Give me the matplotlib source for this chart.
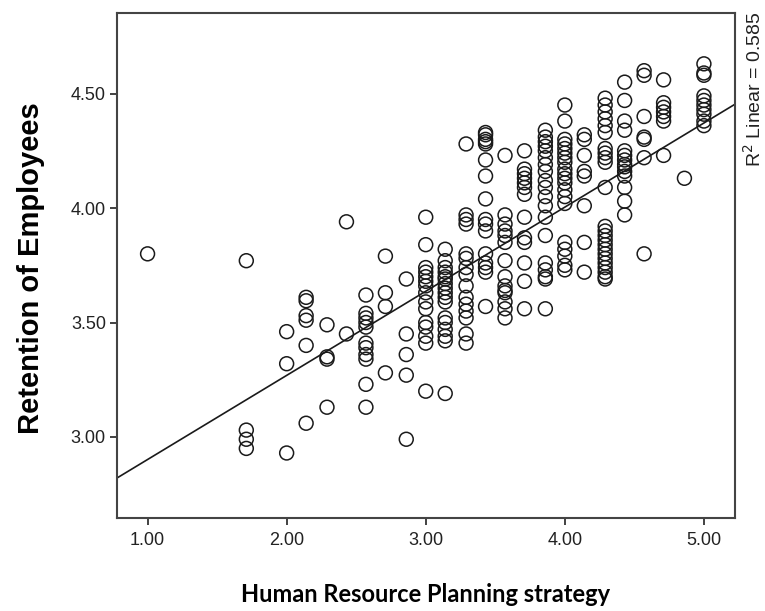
import matplotlib
matplotlib.use("Agg")
import matplotlib.pyplot as plt
import numpy as np

# HRP strategy score levels (x) and the retention scores observed at each level
hrp_levels = [1.00, 1.71, 2.00, 2.14, 2.29, 2.43, 2.57, 2.71, 2.86, 3.00, 3.14, 3.29,
              3.43, 3.57, 3.71, 3.86, 4.00, 4.14, 4.29, 4.43, 4.57, 4.71, 4.86, 5.00]

retention_by_level = [
    [3.80],
    [3.77, 3.03, 2.99, 2.95],
    [3.46, 3.32, 2.93],
    [3.61, 3.595, 3.53, 3.51, 3.40, 3.06],
    [3.49, 3.35, 3.34, 3.13],
    [3.94, 3.45],
    [3.62, 3.54, 3.52, 3.50, 3.48, 3.41, 3.39, 3.36, 3.34, 3.23, 3.13],
    [3.79, 3.63, 3.57, 3.28],
    [3.69, 3.45, 3.36, 3.27, 2.99],
    [3.96, 3.84, 3.74, 3.72, 3.70, 3.68, 3.66, 3.63, 3.59, 3.56, 3.50, 3.48, 3.44, 3.41, 3.20],
    [3.82, 3.77, 3.74, 3.72, 3.70, 3.69, 3.67, 3.65, 3.63, 3.61, 3.59, 3.52, 3.50, 3.47,
     3.44, 3.42, 3.19],
    [4.28, 3.97, 3.95, 3.93, 3.80, 3.78, 3.74, 3.71, 3.66, 3.61, 3.58, 3.55, 3.52, 3.45, 3.41],
    [4.33, 4.32, 4.30, 4.29, 4.28, 4.21, 4.14, 4.04, 3.95, 3.93, 3.90, 3.80, 3.76, 3.74,
     3.72, 3.57],
    [4.23, 3.97, 3.93, 3.90, 3.88, 3.85, 3.77, 3.70, 3.66, 3.64, 3.63, 3.59, 3.56, 3.52],
    [4.25, 4.17, 4.15, 4.13, 4.11, 4.09, 4.06, 3.96, 3.87, 3.85, 3.76, 3.68, 3.56],
    [4.34, 4.31, 4.29, 4.27, 4.25, 4.22, 4.19, 4.16, 4.12, 4.09, 4.05, 4.01, 3.96, 3.88,
     3.76, 3.73, 3.70, 3.69, 3.56],
    [4.45, 4.38, 4.30, 4.28, 4.26, 4.24, 4.22, 4.20, 4.17, 4.15, 4.13, 4.11, 4.08, 4.05,
     4.02, 3.85, 3.82, 3.79, 3.75, 3.73],
    [4.32, 4.30, 4.23, 4.16, 4.14, 4.01, 3.85, 3.72],
    [4.48, 4.45, 4.42, 4.39, 4.36, 4.33, 4.26, 4.24, 4.22, 4.20, 4.09, 3.92, 3.90, 3.88,
     3.86, 3.84, 3.82, 3.80, 3.78, 3.76, 3.74, 3.72, 3.70, 3.69],
    [4.55, 4.47, 4.38, 4.34, 4.25, 4.23, 4.21, 4.19, 4.18, 4.16, 4.14, 4.09, 4.03, 3.97],
    [4.60, 4.58, 4.40, 4.31, 4.30, 4.22, 3.80],
    [4.56, 4.46, 4.44, 4.42, 4.40, 4.38, 4.23],
    [4.13],
    [4.63, 4.59, 4.58, 4.49, 4.47, 4.45, 4.43, 4.41, 4.38, 4.36],
]

# linear fit line
fit_intercept = 2.534
fit_slope = 0.3675
r_squared = 0.585

x_ticks = [1.0, 2.0, 3.0, 4.0, 5.0]
y_ticks = [3.0, 3.5, 4.0, 4.5]

hrp = np.concatenate([[lv] * len(ys) for lv, ys in zip(hrp_levels, retention_by_level)])
retention = np.concatenate(retention_by_level)

plt.rcParams['font.family'] = ['Liberation Sans', 'DejaVu Sans']

fig = plt.figure(figsize=(7.65, 6.11), dpi=100)
ax = fig.add_axes([0.1529, 0.1522, 0.8078, 0.8265])

ax.scatter(hrp, retention, s=100, facecolors='none', edgecolors='#1a1a1a', linewidths=1.1)

xmin, xmax = 0.78, 5.223
xs = np.array([xmin, xmax])
ax.plot(xs, fit_intercept + fit_slope * xs, color='#1a1a1a', lw=1.2)

ax.set_xlim(xmin, xmax)
ax.set_ylim(2.646, 4.852)
ax.set_xticks(x_ticks)
ax.set_yticks(y_ticks)
ax.set_xticklabels([f"{v:.2f}" for v in x_ticks])
ax.set_yticklabels([f"{v:.2f}" for v in y_ticks])
ax.tick_params(direction='out', length=5, width=1.3, color='#333333',
               labelsize=13, labelcolor='#222222', pad=3)
ax.tick_params(axis='x', pad=5)
for sp in ax.spines.values():
    sp.set_color('#444444')
    sp.set_linewidth(1.5)

ax.set_ylabel('Retention of Employees', fontsize=21, fontweight='bold')
ax.yaxis.set_label_coords(-0.1165, 0.495)
ax.set_xlabel('Human Resource Planning strategy', fontsize=17, fontweight='bold',
              family=['Lato', 'DejaVu Sans'])
ax.xaxis.set_label_coords(0.5, -0.129)

fig.text(743 / 765, 1 - 12 / 611, f'R$^2$ Linear = {r_squared}', rotation=90,
         ha='left', va='top', fontsize=14, color='#222222')

fig.savefig('out.png', dpi=100, facecolor='white')
